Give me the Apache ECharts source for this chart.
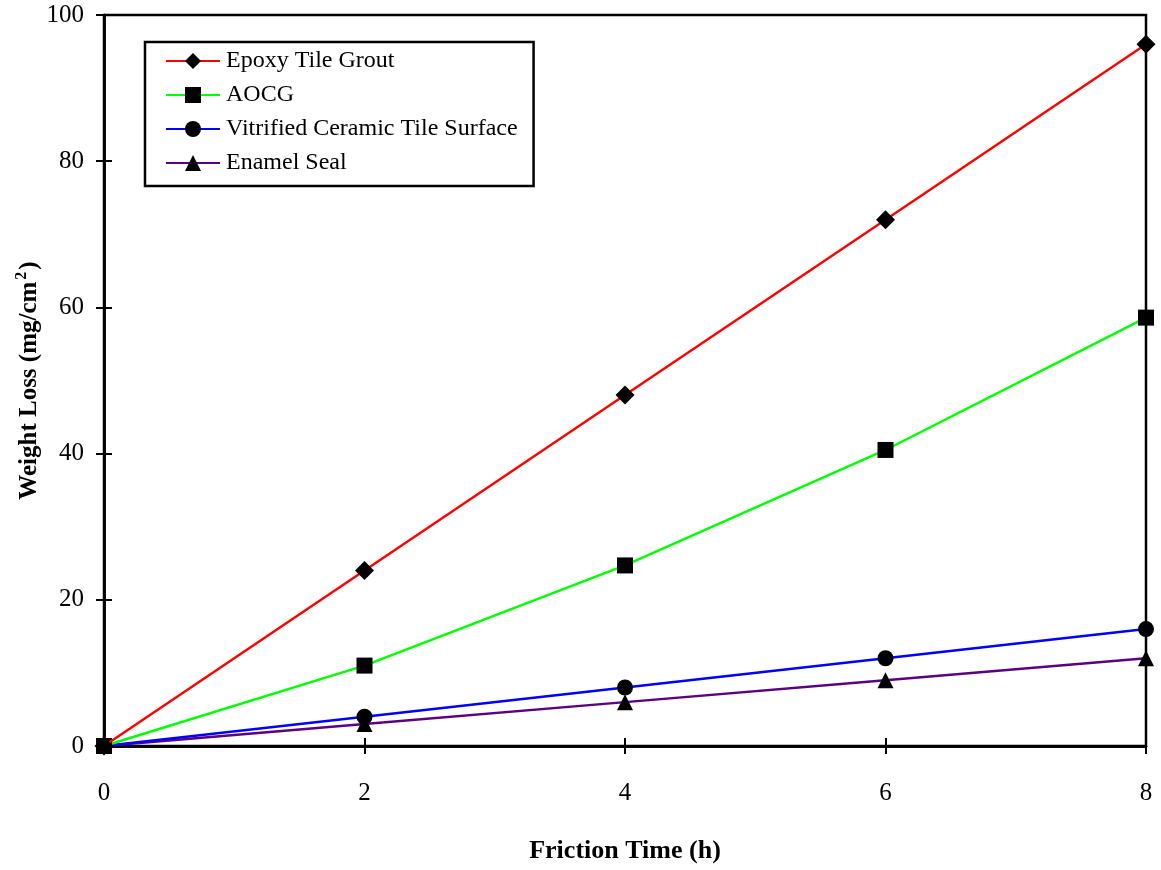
<!DOCTYPE html>
<html><head><meta charset="utf-8">
<script src="https://cdn.jsdelivr.net/npm/echarts@6/dist/echarts.min.js"></script>
<style>html,body{margin:0;padding:0;background:#fff}#c{width:1161px;height:870px}</style>
</head><body><div id="c"></div>
<script>
const xValues = [0, 2, 4, 6, 8];
const epoxy = [0, 24, 48, 72, 96];
const aocg = [0, 11, 24.7, 40.5, 58.6];
const vitrified = [0, 4, 8, 12, 16];
const enamel = [0, 3, 6, 9, 12];
const seriesNames = ['Epoxy Tile Grout', 'AOCG', 'Vitrified Ceramic Tile Surface', 'Enamel Seal'];
const seriesColors = ['#ff0000', '#00ff00', '#0000ff', '#5b0082'];
const seriesSymbols = ['diamond', 'rect', 'circle', 'triangle'];
const symbolSizes = [19, 16, 16, 16];
const allData = [epoxy, aocg, vitrified, enamel];

const font = 'Liberation Serif, Times New Roman, serif';
const chart = echarts.init(document.getElementById('c'));

const axisCommon = {
  type: 'value',
  axisLine: {show: true, lineStyle: {color: '#000', width: 2.5}},
  splitLine: {show: false},
};

chart.setOption({
  animation: false,
  backgroundColor: '#fff',
  grid: {left: 104, right: 15, top: 15, bottom: 124, outerBoundsMode: 'none', containLabel: false,
         show: true, borderColor: '#000', borderWidth: 2.5, backgroundColor: 'transparent'},
  legend: {
    orient: 'vertical', left: 145, top: 42, width: 390,
    padding: [7, 16, 11, 20],
    borderColor: '#000', borderWidth: 2.5,
    itemWidth: 54, itemHeight: 20, itemGap: 10,
    textStyle: {fontFamily: font, fontSize: 24, color: '#000', padding: [2,0,0,1]},
    data: seriesNames
  },
  xAxis: [
    Object.assign({}, axisCommon, {
      min: 0, max: 8, interval: 2,
      name: 'Friction Time (h)', nameLocation: 'middle', nameGap: 92, nameMoveOverlap: false,
      nameTextStyle: {fontFamily: font, fontSize: 26, fontWeight: 'bold', color: '#000'},
      axisTick: {show: true, inside: false, length: 8, lineStyle: {color: '#000', width: 2}},
      axisLabel: {fontFamily: font, fontSize: 25, color: '#000', margin: 35}
    }),
    Object.assign({}, axisCommon, {
      min: 0, max: 8, interval: 2, position: 'bottom',
      axisTick: {show: true, inside: true, length: 8, lineStyle: {color: '#000', width: 2}},
      axisLabel: {show: false}
    })
  ],
  yAxis: [
    Object.assign({}, axisCommon, {
      min: 0, max: 100, interval: 20,
      name: '{a|Weight Loss (mg/cm}{s|2}{a|)}', nameLocation: 'middle', nameGap: 58, nameRotate: 90,
      nameMoveOverlap: false,
      nameTextStyle: {
        rich: {
          a: {fontFamily: font, fontSize: 25, fontWeight: 'bold', color: '#000'},
          s: {fontFamily: font, fontSize: 16, fontWeight: 'bold', color: '#000', padding: [0, 2, 16, 2]}
        }
      },
      axisTick: {show: true, inside: false, length: 8, lineStyle: {color: '#000', width: 2}},
      axisLabel: {fontFamily: font, fontSize: 25, color: '#000', margin: 20}
    }),
    Object.assign({}, axisCommon, {
      min: 0, max: 100, interval: 20, position: 'left',
      axisTick: {show: true, inside: true, length: 8, lineStyle: {color: '#000', width: 2}},
      axisLabel: {show: false}
    })
  ],
  series: allData.map((d, i) => ({
    name: seriesNames[i],
    type: 'line',
    xAxisIndex: 0, yAxisIndex: 0,
    data: xValues.map((x, j) => [x, d[j]]),
    symbol: seriesSymbols[i],
    symbolSize: symbolSizes[i],
    showAllSymbol: true,
    clip: false,
    lineStyle: {color: seriesColors[i], width: 2.4},
    itemStyle: {color: '#000'},
    z: 10 - i
  }))
});
</script></body></html>
